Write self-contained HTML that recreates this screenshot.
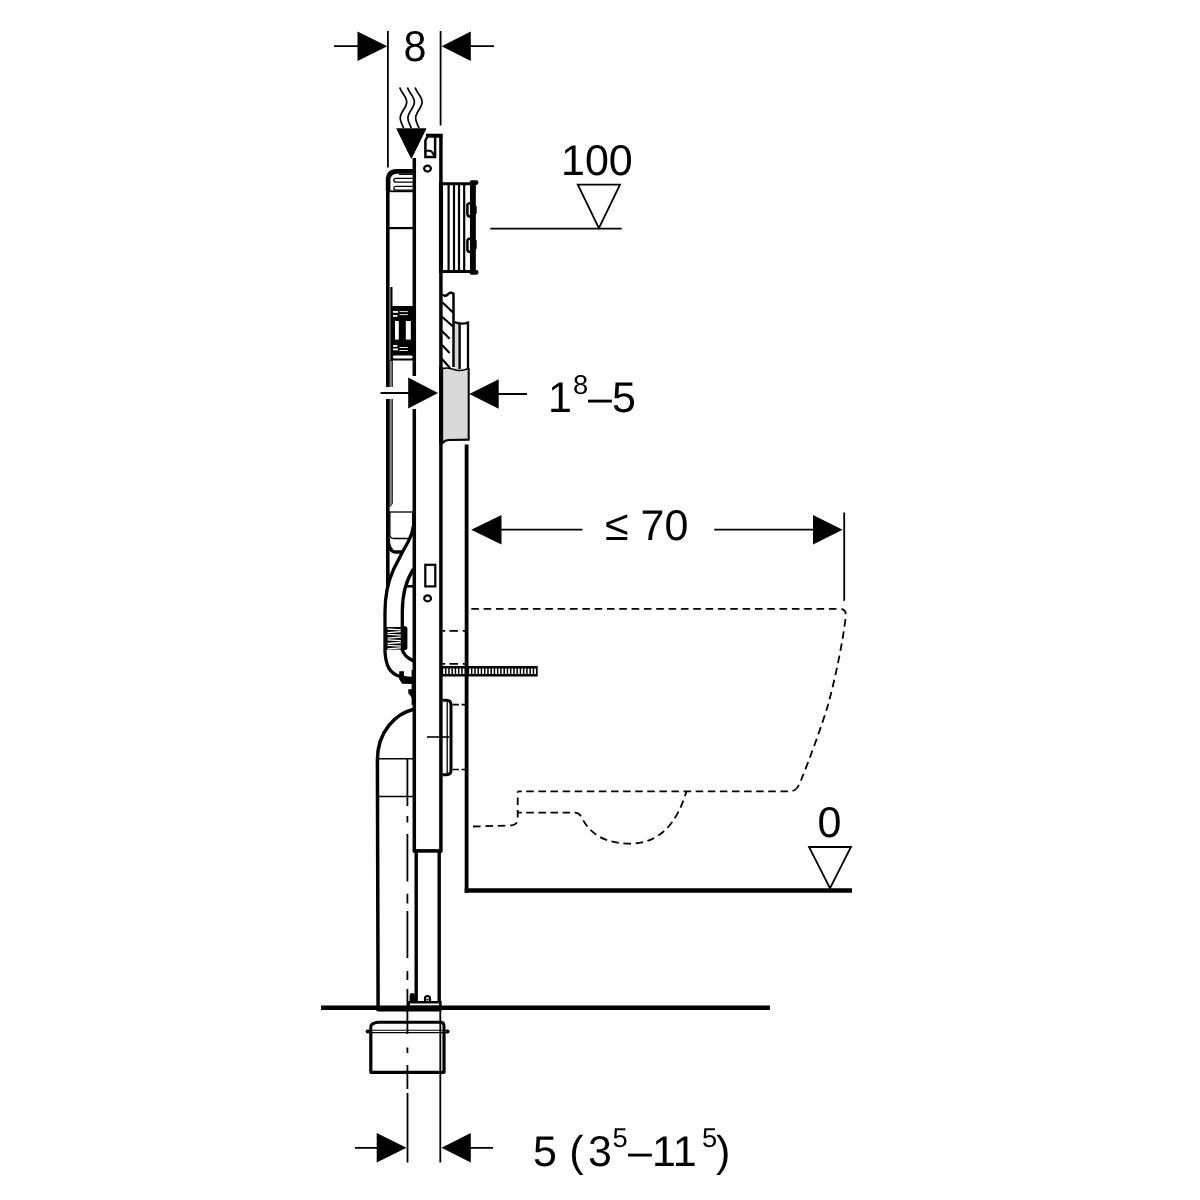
<!DOCTYPE html>
<html lang="en">
<head>
<meta charset="utf-8">
<title>Installation dimensions</title>
<style>
html,body{margin:0;padding:0;background:#fff;}
body{width:1200px;height:1200px;overflow:hidden;}
svg{display:block;will-change:transform;}
text{font-family:"Liberation Sans",sans-serif;fill:#000;text-rendering:geometricPrecision;}
.t{font-size:43px;}
.s{font-size:27.3px;}
.k{stroke:#000;fill:none;}
</style>
</head>
<body>
<svg width="1200" height="1200" viewBox="0 0 1200 1200">
<rect width="1200" height="1200" fill="#fff"/>


<!-- ===== GREY INFILL ===== -->
<g id="fills">
<path d="M442.5 368.5Q448 367 454 369.5Q460 372 468.5 368.5V439.6L449 440Q444.5 440.3 442.5 443Z" fill="#d8d8d8"/>
<rect x="454.3" y="323.5" width="4.4" height="46" fill="#d9d9d9"/>
<path d="M389.3 360H392.5V387H389.3ZM389.3 399H392.5V503.5L389.3 507Z" fill="#808080"/>
</g>

<!-- ===== WALL / FLOOR ===== -->
<g id="wall" class="k">
<path d="M466.6 444.5V892.8" stroke-width="3.8"/><path d="M464.7 890.5H852" stroke-width="4.6"/>
<path d="M321 1007.7H770" stroke-width="4.5"/><path d="M378 1009.3H440" stroke-width="4.2" stroke-linecap="round"/>
</g>

<!-- ===== FRAME ===== -->
<g id="frame" class="k" stroke-width="3.5">
<path d="M414.3 158V376M414.3 409V850.6"/>
<path d="M440.9 134V850.6" stroke-width="3.5"/><path d="M441 182V273M441.1 367V444" stroke-width="4.1"/>
<path d="M426 135.7H442.5" stroke-width="4"/>
<path d="M412.7 850.9H442.5" stroke-width="3.6"/>
<path d="M416.2 850V1003M439.2 850V1003" stroke-width="3.4"/>
<path d="M409 1002.2H440.5V1008H409Z" stroke-width="2.2" fill="#000"/><path d="M410 1004.4H439" stroke="#fff" stroke-width="1.8"/>
<path d="M410.2 1002V996Q410.2 993.6 412.3 993.6Q414.4 993.6 414.4 996V1002Z" fill="#000" stroke-width="1.2"/><path d="M425 1002V998.5Q425 996 427.5 996Q430 996 430 998.5V1002" stroke-width="2.2"/><circle cx="427.5" cy="999.6" r="1.1" fill="#000" stroke="none"/>
<!-- top slot -->
<path d="M425.4 140.5L428 135.5H435.1V156.9H425.4Z" stroke-width="2.5"/>
<path d="M426 150.8H429.5Q432 151 433.5 154.5L434.5 156.5" stroke-width="2"/>
<ellipse cx="427.5" cy="168.6" rx="3.4" ry="3" stroke-width="2.2"/>
<!-- lower slot -->
<rect x="425.3" y="564.8" width="10" height="21.6" stroke-width="2.2"/>
<ellipse cx="427.6" cy="598.4" rx="3.4" ry="3" stroke-width="2.2"/>
</g>

<!-- ===== CISTERN ===== -->
<g id="cistern" class="k">
<path d="M412.8 171.4H397Q388.1 171.4 388.1 180.5V191" stroke-width="4.6"/><path d="M387.8 178V387M387.8 399V586" stroke-width="3.6"/>
<path d="M389 191.3H413" stroke-width="1.8"/><path d="M389 228.1H413" stroke-width="2.2"/>
<path d="M399 174.4H413" stroke-width="1.2"/>
<path d="M412.8 178.4H396Q393.8 178.4 393.8 180.3Q393.8 182.2 396 182.2H412.8M412.8 186.3H396Q393.8 186.3 393.8 188.2Q393.8 190.1 396 190.1H412.8" stroke-width="1.3"/>
<path d="M391.4 287V361" stroke-width="2.2"/><path d="M392.4 360V387M392.4 399V503.5L389.8 507" stroke-width="0.9" stroke="#111"/>

<!-- fill valve -->
<rect x="392" y="306" width="21" height="54.5" fill="#000" stroke="none"/>
<g fill="#fff" stroke="none">
<rect x="393" y="311" width="5" height="1.8"/><rect x="393" y="315" width="4.4" height="1.8"/>
<rect x="399.5" y="311.2" width="8.3" height="0.9"/><rect x="399.5" y="314.2" width="8.3" height="0.9"/>
<rect x="395" y="321" width="3.8" height="18.6"/><rect x="405.8" y="321" width="5" height="18.6"/>
<rect x="393" y="345" width="4.4" height="1.8"/><rect x="393" y="348.5" width="5" height="1.8"/>
<rect x="399.5" y="347" width="8.3" height="0.9"/><rect x="399.5" y="350" width="8.3" height="0.9"/>
<rect x="393" y="355.4" width="19.5" height="3" rx="1.2"/>
</g>
<!-- lower part -->
<path d="M389 512H413" stroke-width="1.3"/>
<path d="M389.9 512V534.5Q389.9 538.5 394 538.5H408.5" stroke-width="1.3"/>
<path d="M412.6 512V526Q412.6 532 409 538" stroke-width="1.3"/>
<path d="M388 538Q388.5 552 396 552H402.5" stroke-width="3.4"/>
</g>

<!-- ===== HOSE ===== -->
<g id="hose" class="k" stroke-width="3.3">
<path d="M413.6 526Q412 535 408.3 541.5L402.5 552L393.5 569.5Q385 588 385 612V652Q385.6 662 389 668.5Q393 674.5 400 676.5"/>
<path d="M413.5 569Q402.3 586 402.3 612V650Q404 655 408.5 658L413.5 661"/>
<path d="M404.8 586.3H413.5" stroke-width="2.6"/>
<rect x="384.3" y="627" width="17" height="22.6" fill="#000" stroke="none"/><rect x="400" y="626.3" width="7.4" height="23.8" rx="2" fill="#000" stroke="none"/>
<path d="M387.6 629.0L400.8 629.8M387.6 632.6L400.8 631.6M387.6 634.4L400.8 635.2M387.6 638.1L400.8 637.1M387.6 639.9L400.8 640.7M387.6 643.5L400.8 642.5M387.6 645.3L400.8 646.1M387.6 648.8L400.8 647.8" stroke="#fff" stroke-width="1.35"/>
<path d="M399.3 671.3H404V676L413 677V684L402 683.7L399 678.7Z" fill="#000" stroke="none"/>
<path d="M408.3 689.3H413V700L410 695.3L408.3 693.5Z" fill="#000" stroke="none"/>
<path d="M413.6 670V705" stroke-width="4"/>
</g>

<!-- ===== WASTE PIPE ===== -->
<g id="waste" class="k">
<path d="M414 709.3C396 713.5 377.4 731 377.4 760L378.1 1008" stroke-width="3.5"/>
<path d="M378 758.7H413M378 796.5H413" stroke-width="1.4"/>
<path d="M407.4 758V806M407.4 816V822.5M407.4 834V881.5M407.4 893.7V903.5M407.4 911V958M407.4 971V980M407.4 989V1034M407.4 1047.5V1053M407.4 1065V1089" stroke-width="1.8"/>
<!-- socket below floor -->
<path d="M370.8 1032V1027Q370.8 1024.5 373.5 1023.5Q376 1022.3 379 1022.3H440.5Q444 1022.3 444 1026V1032" stroke-width="3"/>
<path d="M370.8 1032V1072.3H444V1032" stroke-width="3.2" stroke-linejoin="round"/>
<path d="M368 1030.3H448M368 1032.6H448" stroke-width="1.1"/>
<circle cx="367.6" cy="1031.5" r="2" fill="#000" stroke="none"/><circle cx="447.6" cy="1031.5" r="2" fill="#000" stroke="none"/>
</g>

<!-- ===== FLUSH PIPE / PLATE ===== -->
<g id="plate" class="k">
<path d="M442 183.8H473M442 271.5H473" stroke-width="3"/>
<path d="M472.9 182.5V272.5" stroke-width="5.9"/>
<path d="M471.8 182.6H476.2M471.8 272.4H476.2" stroke-width="4.6" stroke-linecap="round"/>
<path d="M448.6 185V270M454 185V270M459 185V270M464.2 185V270" stroke-width="2.2"/>
<path d="M471.5 203.2H469.8Q467.4 203.2 467.4 205.6V214Q467.4 216.4 469.8 216.4H471.5M471.5 238.8H469.8Q467.4 238.8 467.4 241.2V249.6Q467.4 252 469.8 252H471.5" stroke-width="2.5"/><path d="M475.5 207V213M475.5 241V248" stroke-width="2.4" stroke-linecap="round"/>
</g>

<!-- ===== WALL BUILD-UP ===== -->
<g id="buildup" class="k">
<path d="M442.5 294.8Q445.5 296.8 447.8 294.3Q450.3 291.5 453.5 293.8V367" stroke-width="2.5"/>
<path d="M442 302L453 312.5M442 316.7L453 326.5M442 331L449.6 338.7M442 345L449.6 353M442 359L450 368" stroke-width="2.1"/>
<path d="M453.5 321.8Q458 323.6 462 323.6Q465.5 323.6 468 322.6V368" stroke-width="2.3"/>
<path d="M459.6 323V369" stroke-width="2.4"/>
<path d="M442.5 368.5Q448 367 454 369.5Q460 372 468.5 368.5" stroke-width="1.6"/>
<path d="M468.7 368V440" stroke-width="2"/>
<path d="M442.6 443Q444.5 440.3 449 440L469.5 439.6" stroke-width="2.2"/>
</g>

<!-- ===== FIXINGS ===== -->
<g id="fix" class="k">
<rect x="442" y="666" width="95.7" height="10.5" fill="#000" stroke="none"/>

<path d="M443.2 671.25H464.6M469.2 671.25H536" stroke="#fff" stroke-width="5.4" stroke-dasharray="1.75 1.5"/>
<path d="M442.5 630.9H445.2M449.5 630.9H458M462.8 630.9H465M442.5 663.8H445.2M449.5 663.8H458M462.8 663.8H465" stroke-width="1.8"/>
<path d="M442.5 700.3H446.5Q451 700.3 451 705V770Q451 774.7 446.5 774.7H442.5" stroke-width="3"/>
<path d="M447.2 702V773" stroke-width="1.3"/>
<path d="M427 737H449.3" stroke-width="1.6"/>
<path d="M452.5 704.6H466M452.5 769.5H466" stroke-width="1.7" stroke-dasharray="6.5 2.5"/>
</g>

<!-- ===== WC OUTLINE (dashed) ===== -->
<g id="wc" class="k" stroke-width="1.8" stroke-dasharray="7.6 4.73">
<path d="M471.3 608.9H840Q846.4 608.9 845.8 616.5C843 640 836 676 828 705C821 728 810 758 801.5 779Q799 785.5 796.5 788.5"/>
<path d="M517.7 791.3H790.5Q794 791.2 796.5 788.5" stroke-dasharray="7.5 4.6" stroke-dashoffset="3.5"/>
<path d="M473 826.5L510 825.5Q517.7 825 517.7 819V791.3" stroke-dasharray="7.6 4.8"/>
<path d="M517.7 812.7H574.5Q579 812.7 581.5 817C589 833 604 843.6 630 843.6C660 843.6 677 823 686.5 791.2" stroke-dasharray="7.5 4.6" stroke-dashoffset="3.5"/>
</g>


<!-- ===== WATER SUPPLY SYMBOL ===== -->
<g id="supply" class="k" stroke-width="1.7">
<path id="wv" d="M399.7 87.5C401.5 93 406.7 96.5 406.7 102C406.7 108 400.2 112 400.2 118C400.2 122 402.5 125 403.7 128.5"/>
<path d="M407.4 87.5C409.2 93 414.4 96.5 414.4 102C414.4 108 407.9 112 407.9 118C407.9 122 410.2 125 411.4 128.5"/>
<path d="M415.1 87.5C416.9 93 422.1 96.5 422.1 102C422.1 108 415.6 112 415.6 118C415.6 122 417.9 125 419.1 128.5"/>
<path d="M396.3 128.5H426.3L411.4 158.7Z" fill="#000" stroke="#fff" stroke-width="1.2" paint-order="stroke"/>
<path d="M396.3 128.5H426.3L411.4 158.7Z" fill="#000" stroke="none"/>
</g>

<!-- ===== TEXT ===== -->
<g id="labels">
<text class="t" transform="translate(403.4 60.6) scale(0.96 1)">8</text>
<text class="t" x="561" y="174.7">100</text>
<text class="t" x="548" y="411.7">1</text>
<text class="s" x="573" y="393.5">8</text>
<text class="t" x="588" y="411.7">–5</text>
<text class="t" x="605" y="539.7">≤ 70</text>
<text class="t" x="817.5" y="836.7">0</text>
<text class="t" y="1166"><tspan x="532.9">5</tspan><tspan x="569.3">(</tspan><tspan x="588">3</tspan></text>
<text class="s" x="612.6" y="1146.8">5</text>
<text class="t" x="628" y="1166">–11</text>
<text class="s" x="702" y="1147">5</text>
<text class="t" x="716" y="1166">)</text>
</g>

<!-- ===== DIMENSIONS ===== -->
<g id="dims" class="k" stroke-width="1.8">
<!-- top 8 -->
<path d="M387.9 31V167.6M440.6 31V125.6"/>
<path d="M334 46.2H358M470 46.2H494"/>
<path d="M357.5 31.5L387.3 46.2L357.5 61Z M470.8 31.5L441.6 46.2L470.8 61Z" fill="#000" stroke="none"/>
<!-- 100 -->
<path d="M490.3 228.7H621.7"/>
<path d="M577.8 184.6H620L598.9 228.2Z" stroke-width="1.8"/>
<!-- 1.8-5 -->
<path d="M380.6 393H410M498 394H527"/>
<path d="M408.2 377.4L438 393L408.2 408.6Z M498.7 379.2L469.3 394L498.7 408.8Z" fill="#000" stroke="none"/>
<!-- <=70 -->
<path d="M501 529.7H582.5M714.3 529.7H813"/>
<path d="M844.2 512.5V600.8"/>
<path d="M501.5 515L471.2 529.7L501.5 544.5Z M813 515L842.6 529.7L813 544.5Z" fill="#000" stroke="none"/>
<!-- 0 -->
<path d="M809 847H851L830 888.2Z" stroke-width="1.8"/>
<!-- bottom 5 -->
<path d="M355 1147.8H377M470 1147.8H493"/>
<path d="M376.7 1133L406.5 1147.8L376.7 1162.6Z M470.8 1133L441.5 1147.8L470.8 1162.6Z" fill="#000" stroke="none"/>
<path d="M407.5 1093V1162.5M440.3 1010V1162.5"/>
</g>
</svg>
</body>
</html>
